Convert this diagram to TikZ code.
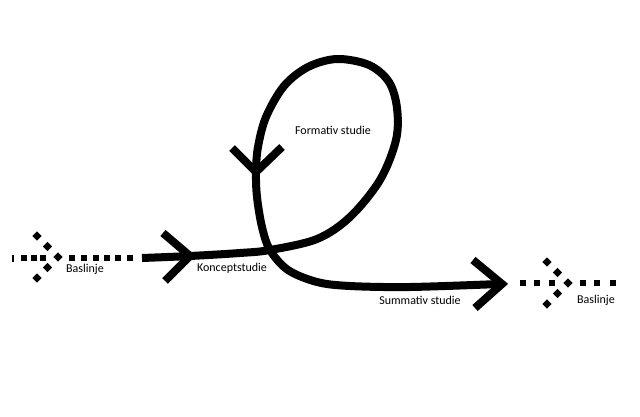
\documentclass[tikz,border=0pt]{standalone}
\usepackage{fontspec}
\setmainfont{Carlito}
\begin{document}
\begin{tikzpicture}[x=1pt,y=-1pt,
  flow/.style={line width=8pt, line join=round},
  chev/.style={line width=8pt, line join=miter},
  sq/.style={fill=black, minimum size=6.5pt, inner sep=0pt, outer sep=0pt, shape=rectangle},
  dia/.style={fill=black, minimum size=6.5pt, inner sep=0pt, outer sep=0pt, rotate=45, shape=rectangle},
  lbl/.style={font=\fontsize{12}{14}\selectfont, inner sep=0pt}]
\useasboundingbox (0,0) rectangle (640,417);
% left baseline
\node[fill=black, minimum width=1.8pt, minimum height=7pt, inner sep=0pt] (ltick) at (13,258) {};
\foreach \x [count=\i] in {24,34,43,72,84,96,107,118,130}
  \node[sq] (ls\i) at (\x,258) {};
\foreach \x/\y [count=\i] in {37/236,47.5/246.5,58/257,47.5/267.5,37/278}
  \node[dia] (ld\i) at (\x,\y) {};
\node[lbl] (bl1) at (85,269) {Baslinje};
% right baseline
\foreach \x [count=\i] in {523,537,552,583,597,613}
  \node[sq] (rs\i) at (\x,283) {};
\foreach \x/\y [count=\i] in {547/262,557.5/272.5,568/283,557.5/293.5,547/304}
  \node[dia] (rd\i) at (\x,\y) {};
\node[lbl] (bl2) at (596,300) {Baslinje};
% main curve
\coordinate (start) at (142,258);
\coordinate (a1) at (190,256);
\coordinate (cross) at (270,250);
\coordinate (a2) at (256,172);
\coordinate (a3) at (502,284);
\draw[flow] plot[smooth, tension=0.55] coordinates {
  (142,258) (190,256) (240,253) (270,250) (317,239) (350,217) (380,180)
  (396,140) (397,108) (389,82) (369,65) (337,59) (308,67) (284,86)
  (266,117) (258,147) (256,172) (257,197) (262,227) (270,250) (288,270)
  (317,282) (350,286) (410,287) (499,284)};
% arrowheads
\draw[chev] (163,233) -- (a1) -- (165,281);
\draw[chev] (232,148) -- (a2) -- (282,147);
\draw[chev] (473,260) -- (a3) -- (475,308);
% labels
\node[lbl] (konc) at (232,268) {Konceptstudie};
\node[lbl] (form) at (333,130) {Formativ studie};
\node[lbl] (summ) at (420,300) {Summativ studie};
\end{tikzpicture}
\end{document}
